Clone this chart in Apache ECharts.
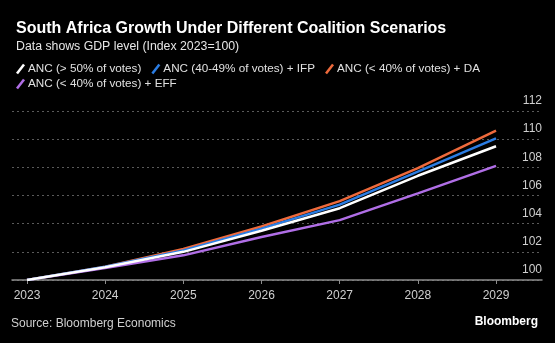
<!DOCTYPE html>
<html>
<head>
<meta charset="utf-8">
<script src="https://cdn.jsdelivr.net/npm/echarts@6/dist/echarts.min.js"></script>
<style>html,body{margin:0;padding:0;background:#000;}#c{width:555px;height:343px;}</style>
</head>
<body>
<div id="c"></div>
<script>
const years = [2023, 2024, 2025, 2026, 2027, 2028, 2029];
const yTicks = [100, 102, 104, 106, 108, 110, 112];
const seriesNames = ['ANC (> 50% of votes)', 'ANC (40-49% of votes) + IFP', 'ANC (< 40% of votes) + DA', 'ANC (< 40% of votes) + EFF'];
const anc50 = [100, 100.9, 102.0, 103.5, 105.1, 107.4, 109.5];
const ancIfp = [100, 100.95, 102.1, 103.65, 105.35, 107.7, 110.05];
const ancDa = [100, 100.95, 102.2, 103.8, 105.6, 107.95, 110.6];
const ancEff = [100, 100.85, 101.75, 103.05, 104.25, 106.15, 108.1];
const colors = ['#ffffff', '#2b7de3', '#ee6a3c', '#b06ee6'];

const values = [anc50, ancIfp, ancDa, ancEff];
const font = '"Liberation Sans", Arial, sans-serif';
const icon = 'path://M0,9 L7,0 L9,1.6 L2,10.6 Z';

const chart = echarts.init(document.getElementById('c'));
const zs = [5, 4, 3, 2];
chart.setOption({
  backgroundColor: '#000',
  animation: false,
  title: [
    { text: 'South Africa Growth Under Different Coalition Scenarios', left: 11, top: 16,
      textStyle: { color: '#fff', fontSize: 16, fontWeight: 'bold', fontFamily: font } },
    { text: 'Data shows GDP level (Index 2023=100)', left: 11, top: 36,
      textStyle: { color: '#e6e6e6', fontSize: 12.3, fontWeight: 'normal', fontFamily: font } }
  ],
  legend: [
    { data: seriesNames.slice(0, 3), left: 11, top: 58, itemWidth: 9, itemHeight: 11, itemGap: 10, icon: icon,
      textStyle: { color: '#e0e0e0', fontSize: 11.7, fontFamily: font, padding: [0, 0, 0, -2] } },
    { data: seriesNames.slice(3), left: 11, top: 73, itemWidth: 9, itemHeight: 11, itemGap: 10, icon: icon,
      textStyle: { color: '#e0e0e0', fontSize: 11.7, fontFamily: font, padding: [0, 0, 0, -2] } }
  ],
  grid: { left: 12, right: 13, top: 111, bottom: 63 },
  xAxis: {
    type: 'value', min: 2022.808, max: 2029.588,
    axisLine: { show: true, lineStyle: { color: '#8c8c8c', width: 1.5 } },
    axisTick: { show: true, customValues: years, length: 4, lineStyle: { color: '#8c8c8c' } },
    axisLabel: { customValues: years, color: '#cfcfcf', fontSize: 12, fontFamily: font, margin: 10,
      formatter: v => String(v) },
    splitLine: { show: false }
  },
  yAxis: {
    type: 'value', position: 'right', min: 100, max: 112, interval: 2,
    axisLine: { show: false }, axisTick: { show: false },
    axisLabel: { inside: true, margin: 0, color: '#cfcfcf', fontSize: 12, fontFamily: font,
      verticalAlign: 'bottom', padding: [0, 0, 4, 0], formatter: v => yTicks.includes(v) ? String(v) : '' },
    splitLine: { show: true, lineStyle: { color: '#5a5a5a', type: [2, 3], width: 1 } }
  },
  series: seriesNames.map((n, i) => ({
    name: n, type: 'line', z: zs[i], symbol: 'none', showSymbol: false,
    data: years.map((y, j) => [y, values[i][j]]),
    lineStyle: { color: colors[i], width: 2.5 }, itemStyle: { color: colors[i] }
  })),
  graphic: [
    { type: 'text', left: 11, top: 318, style: { text: 'Source: Bloomberg Economics', fill: '#cfcfcf', font: '12px ' + font } },
    { type: 'text', right: 17, top: 316, style: { text: 'Bloomberg', fill: '#fff', font: 'bold 12px ' + font } }
  ]
});
</script>
</body>
</html>
